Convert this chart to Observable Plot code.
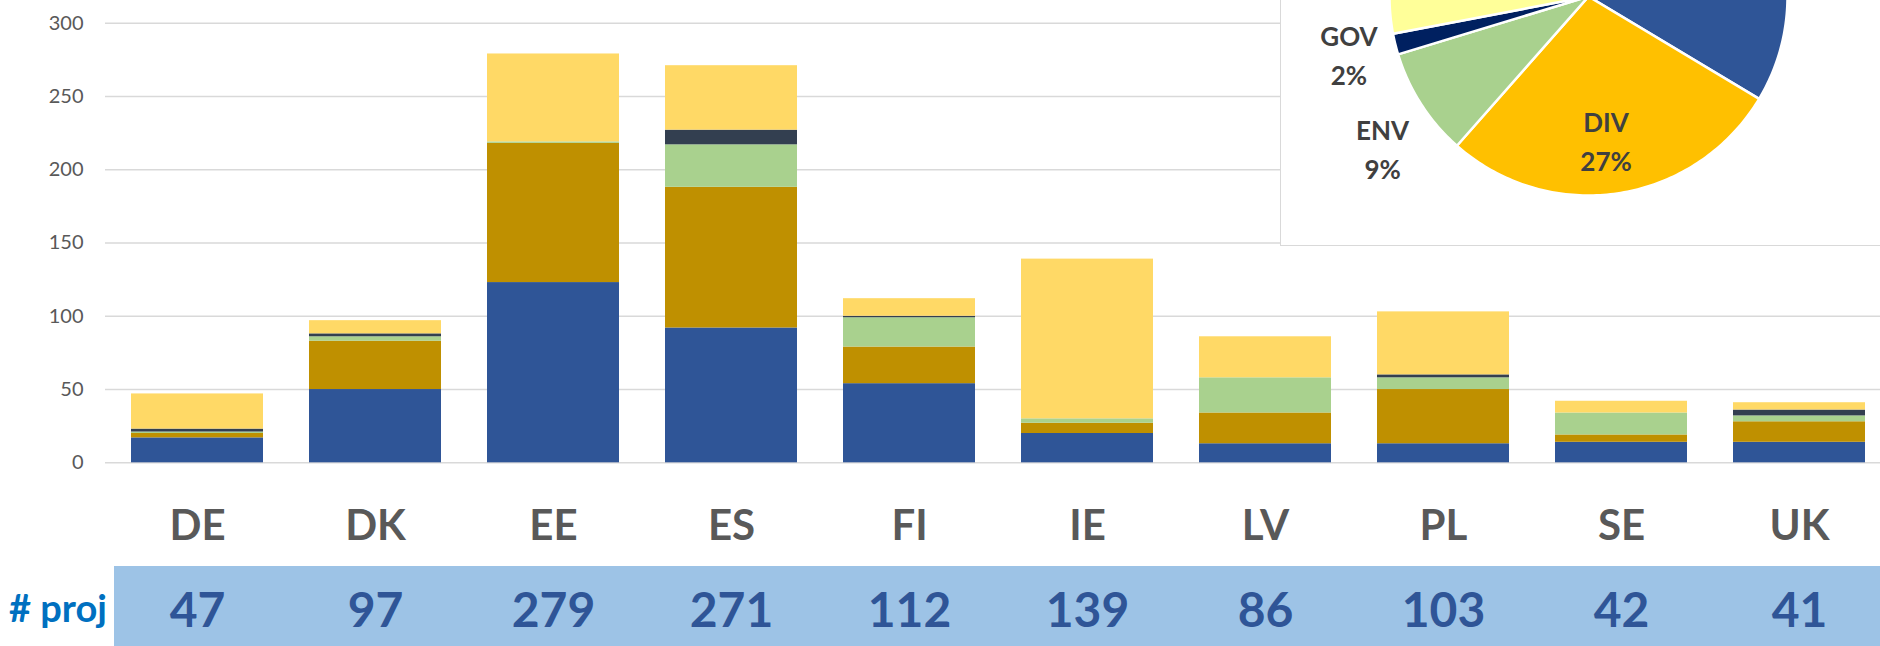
<!DOCTYPE html>
<html>
<head>
<meta charset="utf-8">
<script src="https://cdn.jsdelivr.net/npm/d3@7"></script>
<script src="https://cdn.jsdelivr.net/npm/@observablehq/plot@0.6"></script>
<style>
  html, body { margin: 0; padding: 0; background: #fff; }
  #wrap { position: relative; width: 1880px; height: 646px; overflow: hidden; font-family: Lato, "Open Sans", sans-serif; }
  #strip { position: absolute; left: 114px; top: 566px; width: 1766px; height: 80px; background: #9DC3E6; }
  #projLabel { position: absolute; left: 9px; top: 588px; font: bold 38px Lato, sans-serif; line-height: 38px; color: #0070C0; white-space: nowrap; }
  #main { position: absolute; left: 0; top: 0; }
  #pieBox { position: absolute; left: 1280px; top: -2px; width: 620px; height: 248px; box-sizing: border-box; border: 1px solid #D9D9D9; background: #fff; }
  #pie { position: absolute; left: 1280px; top: 0; }
</style>
</head>
<body>
<div id="wrap">
  <div id="strip"></div>
  <div id="projLabel"># proj</div>
  <div id="main"></div>
  <div id="pieBox"></div>
  <div id="pie"></div>
</div>
<script>
// ---------- data ----------
const countries = ["DE", "DK", "EE", "ES", "FI", "IE", "LV", "PL", "SE", "UK"];
const projects  = [47, 97, 279, 271, 112, 139, 86, 103, 42, 41];

const seriesKeys = ["blue", "DIV", "ENV", "GOV", "yellow"];
const blueVals   = [17, 50, 123, 92, 54, 20, 13, 13, 14, 14];
const divVals    = [3, 33, 95, 96, 25, 7, 21, 37, 5, 14];
const envVals    = [1, 3, 1, 29, 20, 3, 24, 8, 15, 4];
const govVals    = [2, 2, 0, 10, 1, 0, 0, 2, 0, 4];
const yellowVals = [24, 9, 60, 44, 12, 109, 28, 43, 8, 5];
const seriesValues = [blueVals, divVals, envVals, govVals, yellowVals];

const yTicks = [0, 50, 100, 150, 200, 250, 300];

// pie (shares in %), clockwise from 12 o'clock
const pieKeys   = ["blue", "DIV", "ENV", "GOV", "yellow"];
const pieShares = [33.6, 27.9, 8.8, 1.7, 28.0];
const pieLabelKeys  = ["DIV", "ENV", "GOV"];
const pieLabelTexts = ["DIV\n27%", "ENV\n9%", "GOV\n2%"];

// ---------- styles ----------
const barColors = ["#2F5597", "#BF9000", "#A9D18E", "#333F50", "#FFD966"];
const pieColors = ["#2F5597", "#FFC000", "#A9D18E", "#002060", "#FFFF99"];
const labelPlacement = {            // radius factor and nudge (px) for pie labels
  DIV: {k: 0.74, dx: -5, dy: 3},
  ENV: {k: 1.29, dx: 10, dy: -12},
  GOV: {k: 1.24, dx: 0, dy: 3}
};

// ---------- main bar chart ----------
const rows = countries.flatMap((c, i) =>
  seriesKeys.map((s, j) => ({country: c, series: s, value: seriesValues[j][i]})));

const main = Plot.plot({
  width: 1880,
  height: 646,
  marginLeft: 105,
  marginRight: 0,
  marginTop: 22.7,
  marginBottom: 183.7,
  style: {background: "transparent", fontFamily: "Lato, sans-serif", overflow: "visible"},
  x: {domain: countries, range: [105.5, 1890.4], paddingInner: 0.258, paddingOuter: 0.129, axis: null},
  y: {domain: [0, 300], axis: null},
  color: {domain: seriesKeys, range: barColors},
  marks: [
    Plot.ruleY(yTicks, {stroke: "#D9D9D9", strokeWidth: 1.4}),
    Plot.axisY(yTicks, {tickSize: 0, tickPadding: 22, fontSize: 20, fill: "#595959", label: null}),
    Plot.barY(rows, {x: "country", y: "value", fill: "series", order: seriesKeys}),
    Plot.text(countries, {x: d => d, text: d => d, frameAnchor: "bottom", lineAnchor: "bottom",
      dy: 76.7, fontSize: 42, fontWeight: "bold", fill: "#595959"}),
    Plot.text(countries, {x: d => d, text: (d, i) => String(projects[i]), frameAnchor: "bottom", lineAnchor: "bottom",
      dy: 164.4, fontSize: 48, fontWeight: "bold", fill: "#2F5597"})
  ]
});
document.getElementById("main").appendChild(main);

// ---------- pie ----------
const R = 199;
const arcs = d3.pie().sort(null).value(d => d)(pieShares);
const piePts = [];
arcs.forEach((a, i) => {
  const key = pieKeys[i];
  const n = Math.max(2, Math.ceil((a.endAngle - a.startAngle) / (Math.PI / 180)) + 1);
  piePts.push({key, x: 0, y: 0});
  for (let s = 0; s < n; s++) {
    const t = a.startAngle + (a.endAngle - a.startAngle) * s / (n - 1);
    piePts.push({key, x: R * Math.sin(t), y: R * Math.cos(t)});
  }
});
const labelRows = pieLabelKeys.map((k, i) => {
  const a = arcs[pieKeys.indexOf(k)];
  const m = (a.startAngle + a.endAngle) / 2;
  const p = labelPlacement[k];
  return {
    x: R * p.k * Math.sin(m) + p.dx,
    y: R * p.k * Math.cos(m) + p.dy,
    text: pieLabelTexts[i]
  };
});

const pie = Plot.plot({
  width: 600,
  height: 245,
  margin: 0,
  style: {background: "transparent", fontFamily: "Lato, sans-serif"},
  x: {domain: [-308, 292], range: [0, 600], axis: null},
  y: {domain: [-249, -4], range: [245, 0], axis: null},
  color: {domain: pieKeys, range: pieColors},
  marks: [
    Plot.line(piePts, {x: "x", y: "y", z: "key", fill: "key", stroke: "white", strokeWidth: 2.5, curve: "linear-closed"}),
    Plot.text(labelRows, {x: "x", y: "y", text: "text", fontSize: 26, fontWeight: "bold", fill: "#404040", lineHeight: 1.5})
  ]
});
document.getElementById("pie").appendChild(pie);
</script>
</body>
</html>
